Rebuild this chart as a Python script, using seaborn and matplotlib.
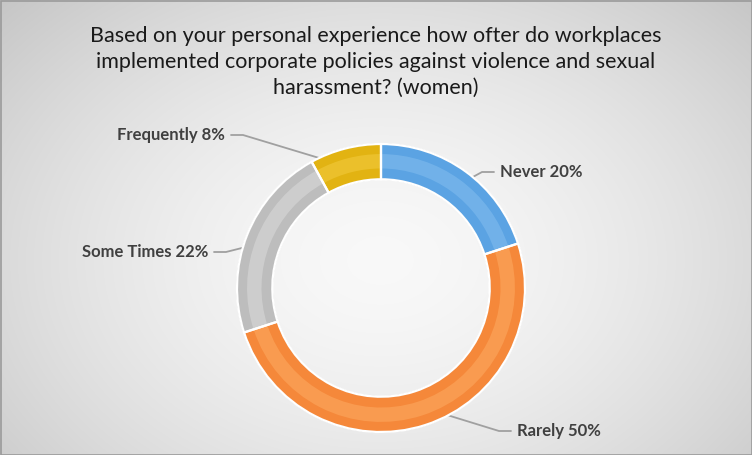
import matplotlib.pyplot as plt
import numpy as np
import seaborn as sns

title = ("Based on your personal experience how ofter do workplaces\n"
         "implemented corporate policies against violence and sexual\n"
         "harassment? (women)")
categories = ["Never", "Rarely", "Some Times", "Frequently"]
shares = [20, 50, 22, 8]
colors = ["#5ba3e3", "#f5883a", "#bdbdbd", "#e2b312"]
light = ["#8cc4f2", "#ffb36b", "#e2e2e2", "#f6d24a"]
# label anchor positions in pixels (x, y from top) and alignment
label_pos = [(500, 172, "left"), (517, 431, "left"), (208, 252, "right"), (225, 135, "right")]

sns.set_theme(style="white")
plt.rcParams['font.family'] = ['Lato', 'DejaVu Sans']

W, H = 752, 455
fig = plt.figure(figsize=(W / 100, H / 100), dpi=100)

# radial gradient background
bg = fig.add_axes([0, 0, 1, 1])
yy, xx = np.mgrid[0:H, 0:W]
d = np.sqrt(((xx - 380) / 520.0) ** 2 + ((yy - 260) / 380.0) ** 2)
shade = 0.975 - 0.2 * d ** 1.6
bg.imshow(np.dstack([shade] * 3), extent=[0, W, H, 0], aspect="auto")
bg.set_xlim(0, W)
bg.set_ylim(H, 0)
bg.axis("off")
bg.add_patch(plt.Rectangle((0.5, 0.5), W - 1, H - 1, fill=False, ec="#9a9a9a", lw=1.2))

bg.text(W / 2, 62, title, ha="center", va="center", fontsize=15.5,
        color="#1a1a1a", linespacing=1.35)

cx, cy, R = 381, 288, 144
ax = fig.add_axes([(cx - R) / W, (H - cy - R) / H, 2 * R / W, 2 * R / H])

width = 0.245
ax.pie(shares, colors=colors, startangle=90, counterclock=False, radius=1,
       wedgeprops=dict(width=width, edgecolor="#7a7a7a", linewidth=0.8))
ax.pie(shares, colors=light, startangle=90, counterclock=False, radius=0.93,
       wedgeprops=dict(width=0.1, edgecolor="none", alpha=0.45))
ax.pie(shares, colors=["white"] * len(shares), startangle=90, counterclock=False, radius=1,
       wedgeprops=dict(width=width, edgecolor="white", linewidth=1.6, fill=False))
ax.set_xlim(-1, 1)
ax.set_ylim(-1, 1)
ax.axis("off")

# leader lines + labels
start = 90.0
for cat, val, (lx, ly, ha) in zip(categories, shares, label_pos):
    mid = np.deg2rad(start - val * 1.8)
    start -= val * 3.6
    r = 1 - width * 0.55
    px, py = cx + r * R * np.cos(mid), cy - r * R * np.sin(mid)
    gap = 6 if ha == "left" else -6
    elbow = lx - 3 * gap
    bg.plot([px, elbow, lx - gap], [py, ly, ly], color="#a0a0a0", lw=1.3)
    bg.text(lx, ly, f"{cat} {val}%", ha=ha, va="center", fontsize=12,
            fontweight="bold", color="#404040")

fig.savefig("out.png", dpi=100)
